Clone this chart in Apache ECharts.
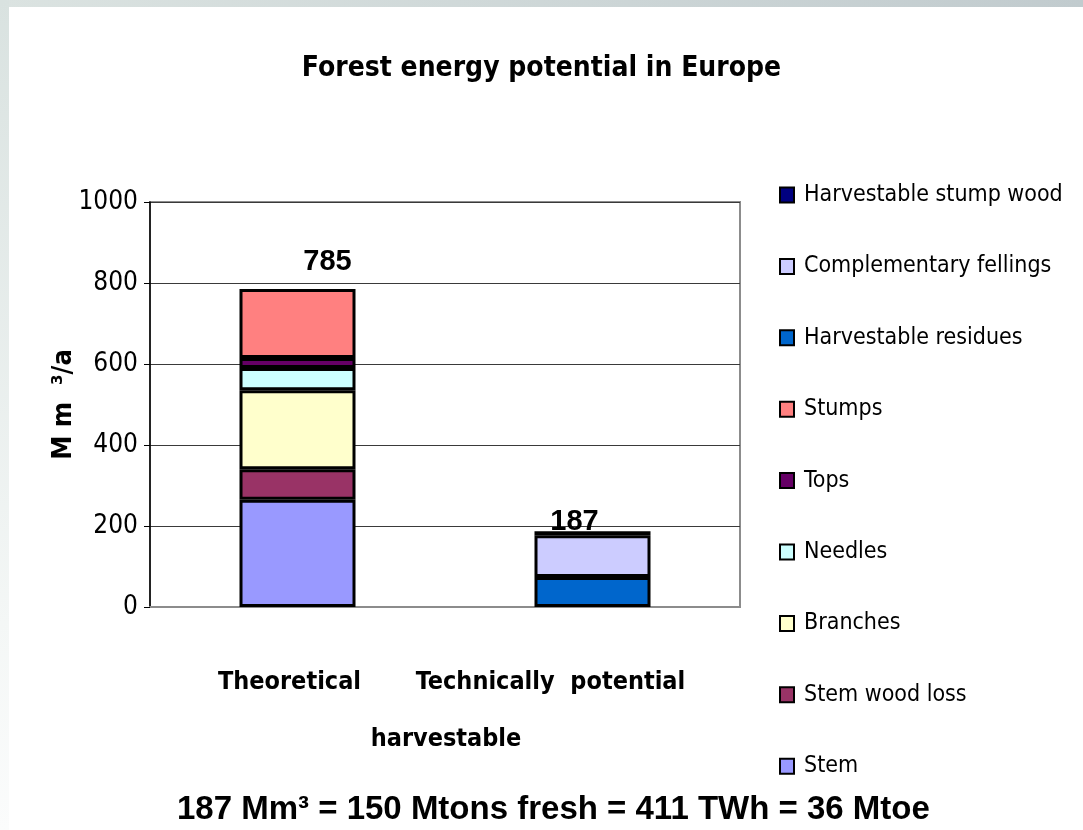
<!DOCTYPE html>
<html>
<head>
<meta charset="utf-8">
<script src="https://cdn.jsdelivr.net/npm/echarts@6/dist/echarts.min.js"></script>
<style>
  html, body { margin: 0; padding: 0; background: #ffffff; }
  #chart { width: 1083px; height: 830px; }
</style>
</head>
<body>
<div id="chart"></div>
<script>
// Forest biomass volumes, Mm3 per year
const categories = ['Theoretical', 'Technically potential harvestable'];
const stem = [265, null];
const stemWoodLoss = [75, null];
const branches = [195, null];
const needles = [55, null];
const tops = [25, null];
const stumps = [170, null];
const harvestableResidues = [null, 74];
const complementaryFellings = [null, 103];
const harvestableStumpWood = [null, 10];

const yTicks = [0, 200, 400, 600, 800, 1000];
const legendOrder = [
  'Harvestable stump wood', 'Complementary fellings', 'Harvestable residues',
  'Stumps', 'Tops', 'Needles', 'Branches', 'Stem wood loss', 'Stem'
];
const footnote = '187 Mm³ = 150 Mtons fresh = 411 TWh = 36 Mtoe';

const NARROW = '"Liberation Sans Narrow", "Arial Narrow", "DejaVu Sans Condensed", "Liberation Sans", sans-serif';
const WIDE = '"Liberation Sans", Arial, sans-serif';

const stackParts = [
  { name: 'Stem', data: stem, color: '#9999FF' },
  { name: 'Stem wood loss', data: stemWoodLoss, color: '#993366' },
  { name: 'Branches', data: branches, color: '#FFFFCC' },
  { name: 'Needles', data: needles, color: '#CCFFFF' },
  { name: 'Tops', data: tops, color: '#660066' },
  { name: 'Stumps', data: stumps, color: '#FF8080' },
  { name: 'Harvestable residues', data: harvestableResidues, color: '#0066CC' },
  { name: 'Complementary fellings', data: complementaryFellings, color: '#CCCCFF' },
  { name: 'Harvestable stump wood', data: harvestableStumpWood, color: '#000080' }
];

// Column totals for the value labels above each stack
const totals = categories.map((_, i) =>
  stackParts.reduce((s, p) => s + (p.data[i] || 0), 0));
const totalLabelOffsets = [[30, -27], [-18, -9]];

const barSeries = stackParts.map(p => ({
  name: p.name,
  type: 'bar',
  stack: 'volume',
  barWidth: 116,
  data: p.data,
  itemStyle: { color: p.color, borderColor: '#000000', borderWidth: 3 },
  emphasis: { disabled: true }
}));

const totalLabel = {
  show: true,
  position: 'inside',
  formatter: p => String(p.value[1]),
  fontFamily: WIDE,
  fontWeight: 'bold',
  fontSize: 29,
  color: '#000000',
  opacity: 1
};

const totalSeries = {
  name: 'total',
  type: 'scatter',
  symbolSize: 0,
  silent: true,
  itemStyle: { opacity: 1 },
  data: totals.map((v, i) => ({
    value: [i, v],
    label: Object.assign({}, totalLabel, { offset: totalLabelOffsets[i] })
  })),
  label: totalLabel,
  z: 10
};

const chart = echarts.init(document.getElementById('chart'), null, { renderer: 'canvas' });

chart.setOption({
  backgroundColor: '#ffffff',
  animation: false,
  graphic: [
    {
      type: 'rect', left: 0, top: 0, z: -10,
      shape: { width: 1083, height: 7 },
      style: {
        fill: new echarts.graphic.LinearGradient(0, 0, 1, 0, [
          { offset: 0, color: '#dbe3e1' }, { offset: 1, color: '#c1cbce' }
        ])
      }
    },
    {
      type: 'rect', left: 0, top: 0, z: -10,
      shape: { width: 9, height: 830 },
      style: {
        fill: new echarts.graphic.LinearGradient(0, 0, 0, 1, [
          { offset: 0, color: '#d9e2e0' }, { offset: 0.75, color: '#f4f7f6' }, { offset: 1, color: '#fbfcfc' }
        ])
      }
    }
  ],
  title: [
    {
      text: 'Forest energy potential in Europe',
      left: 'center',
      top: 50,
      textStyle: { fontFamily: NARROW, fontWeight: 'bold', fontSize: 28, color: '#000000' }
    },
    {
      text: footnote,
      left: 172,
      top: 788,
      textStyle: { fontFamily: WIDE, fontWeight: 'bold', fontSize: 33, color: '#000000' }
    }
  ],
  legend: {
    orient: 'vertical',
    left: 774,
    top: 175,
    data: legendOrder,
    icon: 'rect',
    itemWidth: 14,
    itemHeight: 15,
    itemGap: 41.4,
    selectedMode: false,
    itemStyle: { borderColor: '#000000', borderWidth: 2 },
    textStyle: {
      fontFamily: NARROW, fontSize: 23, color: '#000000',
      lineHeight: 30, padding: [0, 0, 0, 5]
    }
  },
  grid: {
    left: 150, right: 343, top: 202, bottom: 223,
    show: true, borderColor: '#8c8c8c', borderWidth: 2,
    containLabel: false
  },
  xAxis: {
    type: 'category',
    data: categories,
    axisLine: { lineStyle: { color: '#8c8c8c', width: 2 } },
    axisTick: { show: false },
    axisLabel: {
      margin: 47,
      interval: 0,
      fontFamily: NARROW,
      fontWeight: 'bold',
      fontSize: 25,
      color: '#000000',
      lineHeight: 57,
      formatter: (val, idx) => idx === 0
        ? '{a|' + val + '}'
        : '{b|Technically  potential}\n{c|harvestable}',
      rich: {
        a: { fontFamily: NARROW, fontWeight: 'bold', fontSize: 25, lineHeight: 57, padding: [0, 16, 0, 0] },
        b: { fontFamily: NARROW, fontWeight: 'bold', fontSize: 25, lineHeight: 57, padding: [0, 84, 0, 0] },
        c: { fontFamily: NARROW, fontWeight: 'bold', fontSize: 25, lineHeight: 57, padding: [0, 293, 0, 0] }
      }
    }
  },
  yAxis: {
    type: 'value',
    min: yTicks[0],
    max: yTicks[yTicks.length - 1],
    interval: yTicks[1] - yTicks[0],
    name: 'M m  ³/a',
    nameLocation: 'middle',
    nameGap: 73,
    nameMoveOverlap: false,
    nameRotate: 90,
    nameTextStyle: { fontFamily: NARROW, fontWeight: 'bold', fontSize: 27, color: '#000000' },
    axisLine: { show: true, lineStyle: { color: '#000000', width: 1.5 } },
    axisTick: { show: true, length: 6, lineStyle: { color: '#000000' } },
    axisLabel: {
      margin: 12, fontFamily: NARROW, fontSize: 26, color: '#000000',
      formatter: v => String(v)
    },
    splitLine: { show: true, lineStyle: { color: '#3a3a3a', width: 1 } }
  },
  tooltip: { show: false },
  series: barSeries.concat([totalSeries])
});
</script>
</body>
</html>
